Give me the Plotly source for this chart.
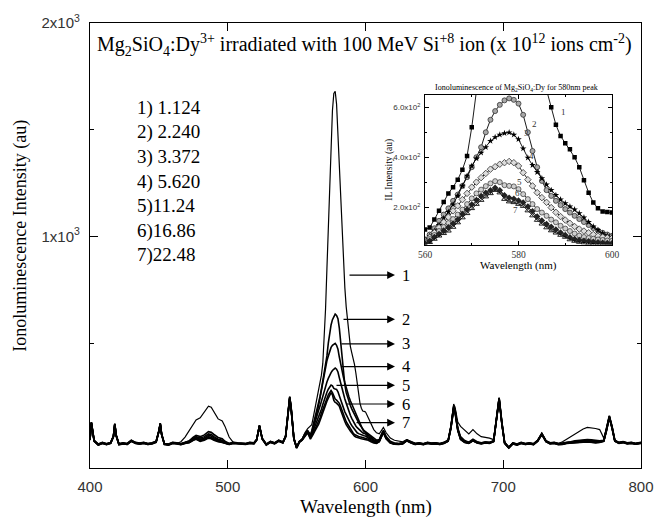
import plotly.graph_objects as go

# ---- wavelength grid (nm): coarse steps with extra points on sharp lines,
#      1 nm steps across the 580 nm band
WL = [
    400, 401, 403, 406, 409, 412, 415, 417, 418, 419,
    421, 424, 427, 430, 433, 436, 439, 442, 445, 448,
    450, 451, 452, 454, 457, 460, 463, 466, 469, 472,
    475, 477, 480, 483, 486, 488, 490, 493, 496, 498,
    501, 504, 507, 510, 513, 516, 519, 521, 523, 525,
    528, 531, 534, 537, 540, 542, 544, 545, 546, 548,
    550, 552, 554, 556, 558,
    560, 561, 562, 563, 564, 565, 566, 567, 568, 569,
    570, 571, 572, 573, 574, 575, 576, 577, 578, 579,
    580, 581, 582, 583, 584, 585, 586, 587, 588, 589,
    590, 591, 592, 593, 594, 595, 596, 597, 598, 599, 600,
    602, 604, 606, 608, 610, 612, 613, 615, 618, 621,
    624, 627, 630, 633, 636, 639, 642, 645, 648, 651,
    654, 657, 660, 662, 664, 665, 667, 669, 672, 675,
    678, 681, 684, 687, 690, 693, 695, 697, 699, 701,
    704, 707, 710, 713, 716, 719, 722, 725, 728, 731,
    734, 737, 740, 743, 746, 749, 752, 755, 758, 761,
    764, 767, 770, 773, 775, 777, 779, 781, 784, 787,
    790, 793, 796, 800,
]

# ---- ionoluminescence intensity (au) for the seven fluences
IL_1 = [
    48, 128, 43, 25, 33, 27, 33, 63, 121, 68,
    27, 31, 28, 43, 33, 30, 33, 28, 31, 38,
    88, 123, 73, 28, 25, 33, 30, 38, 60, 90,
    125, 140, 150, 180, 205, 200, 175, 145, 135, 110,
    60, 35, 31, 30, 28, 33, 31, 48, 113, 53,
    25, 38, 31, 43, 35, 63, 196, 246, 196, 53,
    11, 38, 50, 80, 100,
    110, 118, 150, 185, 220, 255, 280, 310, 350, 405,
    520, 660, 850, 1050, 1260, 1450, 1590, 1670, 1680, 1620,
    1480, 1310, 1140, 990, 870, 760, 670, 600, 530, 485,
    456, 432, 400, 360, 308, 258, 218, 195, 182, 180, 178,
    150, 120, 95, 80, 75, 95, 105, 80, 55, 45,
    40, 38, 48, 40, 32, 30, 26, 32, 29, 30,
    27, 32, 45, 110, 215, 200, 130, 110, 90, 75,
    95, 75, 62, 60, 55, 48, 140, 235, 120, 35,
    10, 30, 24, 32, 27, 30, 26, 42, 74, 40,
    30, 32, 30, 38, 50, 62, 75, 88, 98, 105,
    104, 100, 95, 55, 100, 155, 100, 42, 32, 36,
    30, 32, 28, 32,
]
IL_2 = [
    50, 130, 45, 27, 35, 29, 35, 65, 123, 70,
    29, 33, 30, 45, 35, 32, 35, 30, 33, 40,
    90, 125, 75, 30, 27, 35, 33, 29, 36, 42,
    60, 68, 62, 70, 85, 82, 72, 58, 52, 40,
    30, 35, 33, 32, 30, 35, 33, 50, 115, 55,
    27, 40, 33, 45, 37, 65, 200, 250, 200, 55,
    13, 40, 50, 75, 90,
    70, 90, 115, 145, 170, 195, 225, 250, 285, 320,
    360, 400, 440, 500, 550, 585, 610, 628, 636, 630,
    615, 570, 500, 425, 360, 305, 268, 245, 225, 208,
    192, 178, 165, 152, 140, 128, 116, 106, 97, 90, 85,
    75, 62, 52, 45, 48, 82, 92, 62, 40, 32,
    30, 33, 47, 37, 30, 33, 29, 35, 32, 33,
    30, 35, 46, 110, 205, 190, 102, 62, 44, 36,
    50, 38, 33, 37, 35, 43, 150, 245, 130, 35,
    13, 33, 27, 35, 30, 33, 29, 45, 77, 43,
    33, 35, 30, 32, 36, 38, 42, 45, 47, 48,
    47, 44, 42, 45, 100, 160, 110, 45, 35, 39,
    33, 35, 31, 35,
]
IL_3 = [
    49, 129, 44, 26, 34, 28, 34, 64, 122, 69,
    28, 32, 29, 44, 34, 31, 34, 29, 32, 39,
    89, 124, 74, 29, 26, 34, 32, 28, 34, 41,
    55, 62, 55, 62, 75, 72, 62, 50, 45, 36,
    29, 34, 32, 31, 29, 34, 32, 49, 114, 54,
    26, 39, 32, 44, 36, 64, 198, 248, 198, 54,
    12, 39, 49, 73, 88,
    70, 84, 105, 128, 155, 180, 210, 245, 285, 325,
    365, 395, 418, 440, 465, 480, 490, 496, 499, 490,
    472, 435, 398, 368, 340, 315, 290, 268, 248, 230,
    215, 202, 190, 175, 158, 140, 122, 108, 95, 86, 80,
    70, 58, 48, 42, 45, 78, 88, 58, 37, 30,
    29, 32, 46, 36, 29, 32, 28, 34, 31, 32,
    29, 34, 44, 108, 202, 187, 98, 56, 39, 34,
    46, 36, 32, 36, 34, 42, 148, 243, 128, 34,
    12, 32, 26, 34, 29, 32, 28, 44, 76, 42,
    32, 34, 28, 29, 34, 37, 41, 42, 44, 45,
    43, 40, 40, 44, 98, 158, 108, 44, 34, 38,
    32, 34, 30, 34,
]
IL_4 = [
    48, 128, 43, 25, 33, 27, 33, 63, 121, 68,
    27, 31, 28, 43, 33, 30, 33, 28, 31, 38,
    88, 123, 73, 28, 25, 33, 31, 27, 33, 39,
    52, 58, 50, 56, 68, 65, 56, 46, 42, 34,
    28, 33, 31, 30, 28, 33, 31, 48, 113, 53,
    25, 38, 31, 43, 35, 63, 196, 246, 196, 53,
    11, 38, 48, 71, 86,
    65, 79, 98, 118, 140, 160, 185, 205, 230, 255,
    280, 300, 318, 335, 352, 362, 372, 378, 383, 378,
    365, 338, 310, 285, 258, 238, 219, 198, 179, 162,
    148, 135, 122, 112, 104, 97, 90, 84, 80, 77, 75,
    62, 52, 44, 38, 42, 75, 85, 56, 35, 29,
    28, 31, 45, 35, 28, 31, 27, 33, 30, 31,
    28, 33, 43, 106, 199, 184, 96, 54, 38, 33,
    45, 35, 31, 35, 33, 41, 146, 241, 126, 33,
    11, 31, 25, 33, 28, 31, 27, 43, 75, 41,
    31, 33, 27, 28, 33, 35, 39, 39, 41, 42,
    40, 37, 38, 43, 96, 156, 106, 43, 33, 37,
    31, 33, 29, 33,
]
IL_5 = [
    47, 127, 42, 24, 32, 26, 32, 62, 120, 67,
    26, 30, 27, 42, 32, 29, 32, 27, 30, 37,
    87, 122, 72, 27, 24, 32, 30, 26, 32, 37,
    48, 54, 46, 50, 62, 58, 50, 42, 38, 32,
    27, 32, 30, 29, 27, 32, 30, 47, 112, 52,
    24, 37, 30, 42, 34, 62, 194, 244, 194, 52,
    10, 37, 47, 69, 84,
    60, 72, 88, 104, 120, 136, 152, 170, 190, 212,
    235, 255, 270, 284, 295, 304, 300, 288, 285, 283,
    272, 252, 232, 212, 192, 178, 165, 150, 139, 125,
    114, 104, 94, 86, 80, 76, 73, 70, 68, 66, 65,
    55, 47, 40, 34, 40, 72, 83, 54, 34, 28,
    27, 30, 44, 34, 27, 30, 26, 32, 29, 30,
    27, 32, 42, 104, 196, 181, 94, 52, 37, 32,
    44, 34, 30, 34, 32, 40, 144, 239, 124, 32,
    10, 30, 24, 32, 27, 30, 26, 42, 74, 40,
    30, 32, 26, 27, 32, 34, 37, 37, 39, 40,
    38, 35, 37, 42, 94, 154, 104, 42, 32, 36,
    30, 32, 28, 32,
]
IL_6 = [
    46, 126, 41, 23, 31, 25, 31, 61, 119, 66,
    25, 29, 26, 41, 31, 28, 31, 26, 29, 36,
    86, 121, 71, 26, 23, 31, 29, 25, 31, 35,
    46, 52, 43, 48, 58, 55, 48, 40, 36, 31,
    26, 31, 29, 28, 26, 31, 29, 46, 111, 51,
    23, 36, 29, 41, 33, 61, 192, 242, 192, 51,
    9, 36, 46, 67, 82,
    55, 65, 80, 92, 106, 119, 134, 150, 172, 190,
    210, 228, 245, 258, 268, 278, 268, 248, 238, 233,
    226, 218, 202, 183, 162, 146, 132, 121, 110, 98,
    88, 79, 72, 68, 65, 63, 61, 59, 57, 56, 55,
    50, 42, 36, 32, 39, 71, 81, 53, 33, 27,
    26, 29, 43, 33, 26, 29, 25, 31, 28, 29,
    26, 31, 41, 102, 193, 178, 92, 50, 36, 31,
    43, 33, 29, 33, 31, 39, 142, 237, 122, 31,
    9, 29, 23, 31, 26, 29, 25, 41, 73, 39,
    29, 31, 25, 26, 31, 33, 36, 35, 37, 38,
    36, 34, 36, 41, 92, 152, 102, 41, 31, 35,
    29, 31, 27, 31,
]
IL_7 = [
    45, 125, 40, 22, 30, 24, 30, 60, 118, 65,
    24, 28, 25, 40, 30, 27, 30, 25, 28, 35,
    85, 120, 70, 25, 22, 30, 28, 24, 30, 33,
    45, 50, 40, 45, 55, 52, 45, 38, 35, 30,
    25, 30, 28, 27, 25, 30, 28, 45, 110, 50,
    22, 35, 28, 40, 32, 60, 190, 240, 190, 50,
    8, 35, 45, 65, 80,
    50, 59, 72, 85, 95, 105, 120, 138, 158, 175,
    195, 212, 228, 242, 255, 268, 258, 232, 222, 219,
    212, 204, 186, 166, 148, 133, 118, 106, 97, 88,
    80, 70, 64, 60, 57, 55, 54, 52, 51, 50, 50,
    45, 38, 32, 30, 38, 70, 80, 52, 32, 26,
    25, 28, 42, 32, 25, 28, 24, 30, 27, 28,
    25, 30, 40, 100, 190, 175, 90, 48, 35, 30,
    42, 32, 28, 32, 30, 38, 140, 235, 120, 30,
    8, 28, 22, 30, 25, 28, 24, 40, 72, 38,
    28, 30, 24, 25, 30, 32, 35, 34, 36, 37,
    35, 33, 35, 40, 90, 150, 100, 40, 30, 34,
    28, 30, 26, 30,
]

SERIES = [IL_1, IL_2, IL_3, IL_4, IL_5, IL_6, IL_7]
CURVE_IDS = ["1", "2", "3", "4", "5", "6", "7"]
LEGEND_LINES = ["1) 1.124", "2) 2.240", "3) 3.372", "4) 5.620",
                "5)11.24", "6)16.86", "7)22.48"]

# inset window (580 nm band)
INSET_LO, INSET_HI = 560, 600

SERIF = "Liberation Serif"
SANS = "Liberation Sans"
INK = "black"

# plot-area geometry in pixels (used to place free text)
W, H = 670, 521
L, R, T, B = 90, 29, 16, 53
PW, PH = W - L - R, H - T - B
Y_LO, Y_HI = -85, 2000


def px_x(x):
    return (x - L) / PW


def px_y(y):
    return (H - B - y) / PH


fig = go.Figure()

# main spectra
for i, ys in enumerate(SERIES):
    fig.add_trace(go.Scatter(
        x=WL, y=ys, mode="lines",
        line=dict(color=INK, width=1.2 if i == 0 else 1.6),
        showlegend=False, hoverinfo="skip",
    ))

# inset: 580 nm band with markers
marker_styles = [
    dict(symbol="square", color=INK, size=4.5),
    dict(symbol="circle", color="#a8a8a8", size=5, line=dict(color="#333", width=0.8)),
    dict(symbol="star", color=INK, size=5),
    dict(symbol="diamond", color="#dcdcdc", size=5, line=dict(color="#333", width=0.8)),
    dict(symbol="circle", color="#cfcfcf", size=5, line=dict(color="#444", width=0.8)),
    dict(symbol="diamond", color="#222", size=5),
    dict(symbol="triangle-up-open", color="#222", size=5),
]
idx = [k for k, w in enumerate(WL) if INSET_LO <= w <= INSET_HI]
inset_x = [WL[k] for k in idx]
for i, ys in enumerate(SERIES):
    fig.add_trace(go.Scatter(
        x=inset_x, y=[ys[k] for k in idx], mode="lines+markers",
        xaxis="x2", yaxis="y2",
        line=dict(color=INK, width=0.9),
        marker=marker_styles[i],
        showlegend=False, hoverinfo="skip", cliponaxis=True,
    ))

axis_common = dict(
    showline=True, linecolor=INK, linewidth=1.3, mirror="allticks",
    ticks="inside", tickcolor=INK, showgrid=False, zeroline=False,
)
inset_axis = dict(
    showline=True, linecolor=INK, linewidth=1, mirror="allticks",
    ticks="inside", tickcolor=INK, showgrid=False, zeroline=False,
)

fig.update_layout(
    width=W, height=H,
    margin=dict(l=L, r=R, t=T, b=B),
    paper_bgcolor="white", plot_bgcolor="white",
    xaxis=dict(
        range=[400, 800], tickvals=[400, 500, 600, 700, 800],
        ticklen=8, tickwidth=1.2,
        tickfont=dict(family=SANS, size=15, color="#333"),
        ticklabelstandoff=5,
        **axis_common,
    ),
    yaxis=dict(
        range=[Y_LO, Y_HI], tickvals=[1000, 2000],
        ticktext=["1x10<sup>3</sup>", "2x10<sup>3</sup>"],
        ticklen=8, tickwidth=1.2,
        minor=dict(tickvals=[500, 1500], ticklen=4, ticks="inside", tickcolor=INK),
        tickfont=dict(family=SANS, size=15, color="#333"),
        ticklabelstandoff=6,
        **axis_common,
    ),
    xaxis2=dict(
        domain=[px_x(425), px_x(612)], anchor="y2",
        range=[INSET_LO, INSET_HI], tickvals=[560, 580, 600],
        ticklen=4, tickwidth=1,
        minor=dict(tickvals=[570, 590], ticklen=2, ticks="inside", tickcolor=INK),
        tickfont=dict(family=SERIF, size=9.5, color="#333"),
        ticklabelstandoff=1,
        **inset_axis,
    ),
    yaxis2=dict(
        domain=[px_y(241), px_y(89)], anchor="x2",
        range=[50, 650], tickvals=[200, 400, 600],
        ticktext=["2.0x10<sup>2</sup>", "4.0x10<sup>2</sup>", "6.0x10<sup>2</sup>"],
        ticklen=4, tickwidth=1,
        minor=dict(tickvals=[300, 500], ticklen=2, ticks="inside", tickcolor=INK),
        tickfont=dict(family=SANS, size=8, color="#333"),
        ticklabelstandoff=2,
        **inset_axis,
    ),
)

ann = []
# header line inside the frame
ann.append(dict(
    xref="paper", yref="paper", x=px_x(95), y=px_y(38),
    xanchor="left", yanchor="middle", showarrow=False,
    text=("Mg<sub>2</sub>SiO<sub>4</sub>:Dy<sup>3+</sup> irradiated with 100 MeV "
          "Si<sup>+8</sup> ion (x 10<sup>12</sup> ions cm<sup>-2</sup>)"),
    font=dict(family=SERIF, size=20, color=INK),
))
# fluence list
for j, line in enumerate(LEGEND_LINES):
    ann.append(dict(
        xref="paper", yref="paper", x=px_x(135), y=px_y(102 + 25 * j),
        xanchor="left", yanchor="middle", showarrow=False,
        text=line, font=dict(family=SERIF, size=19, color=INK),
    ))
# axis titles
ann.append(dict(
    xref="paper", yref="paper", x=0.5, y=px_y(508),
    xanchor="center", yanchor="middle", showarrow=False,
    text="Wavelength (nm)", font=dict(family=SERIF, size=19, color=INK),
))
ann.append(dict(
    xref="paper", yref="paper", x=px_x(21), y=px_y(232),
    xanchor="center", yanchor="middle", showarrow=False, textangle=-90,
    text="Ionoluminescence Intensity (au)", font=dict(family=SERIF, size=18, color=INK),
))
# curve labels with arrows
arrow_rows = [  # (tail x px, row y px)
    (348, 272), (342, 317), (340, 342), (340, 365),
    (335, 384), (345, 403), (355, 422),
]
head_px = 395
for cid, (tail, row) in zip(CURVE_IDS, arrow_rows):
    head_nm = 400 + (head_px - L) / PW * 400
    yval = Y_HI - (row - T) / PH * (Y_HI - Y_LO)
    ann.append(dict(
        xref="x", yref="y", x=head_nm, y=yval, ax=tail - head_px, ay=0,
        showarrow=True, arrowhead=2, arrowsize=1.3, arrowwidth=1.2,
        arrowcolor=INK, text="",
    ))
    ann.append(dict(
        xref="paper", yref="paper", x=px_x(406), y=px_y(row),
        xanchor="center", yanchor="middle", showarrow=False,
        text=cid, font=dict(family=SERIF, size=16.5, color=INK),
    ))
# inset texts
ann.append(dict(
    xref="paper", yref="paper", x=px_x(516), y=px_y(82),
    xanchor="center", yanchor="middle", showarrow=False,
    text="Ionoluminescence of Mg<sub>2</sub>SiO<sub>4</sub>:Dy for 580nm peak",
    font=dict(family=SERIF, size=8, color=INK),
))
ann.append(dict(
    xref="paper", yref="paper", x=px_x(518), y=px_y(262),
    xanchor="center", yanchor="middle", showarrow=False,
    text="Wavelength (nm)", font=dict(family=SERIF, size=11, color=INK),
))
ann.append(dict(
    xref="paper", yref="paper", x=px_x(390), y=px_y(165),
    xanchor="center", yanchor="middle", showarrow=False, textangle=-90,
    text="IL Intensity (au)", font=dict(family=SERIF, size=9.5, color=INK),
))
inset_label_pos = [(588.6, 580), (582.5, 532), (580.8, 496), (581.8, 404),
                   (579.2, 300), (578.8, 256), (578.5, 190)]
for cid, (lx, ly) in zip(CURVE_IDS, inset_label_pos):
    ann.append(dict(
        xref="x2", yref="y2", x=lx, y=ly, showarrow=False,
        xanchor="left", yanchor="middle",
        text=cid, font=dict(family=SERIF, size=9, color="#333"),
    ))

fig.update_layout(annotations=ann)
fig.write_html("out.html")
